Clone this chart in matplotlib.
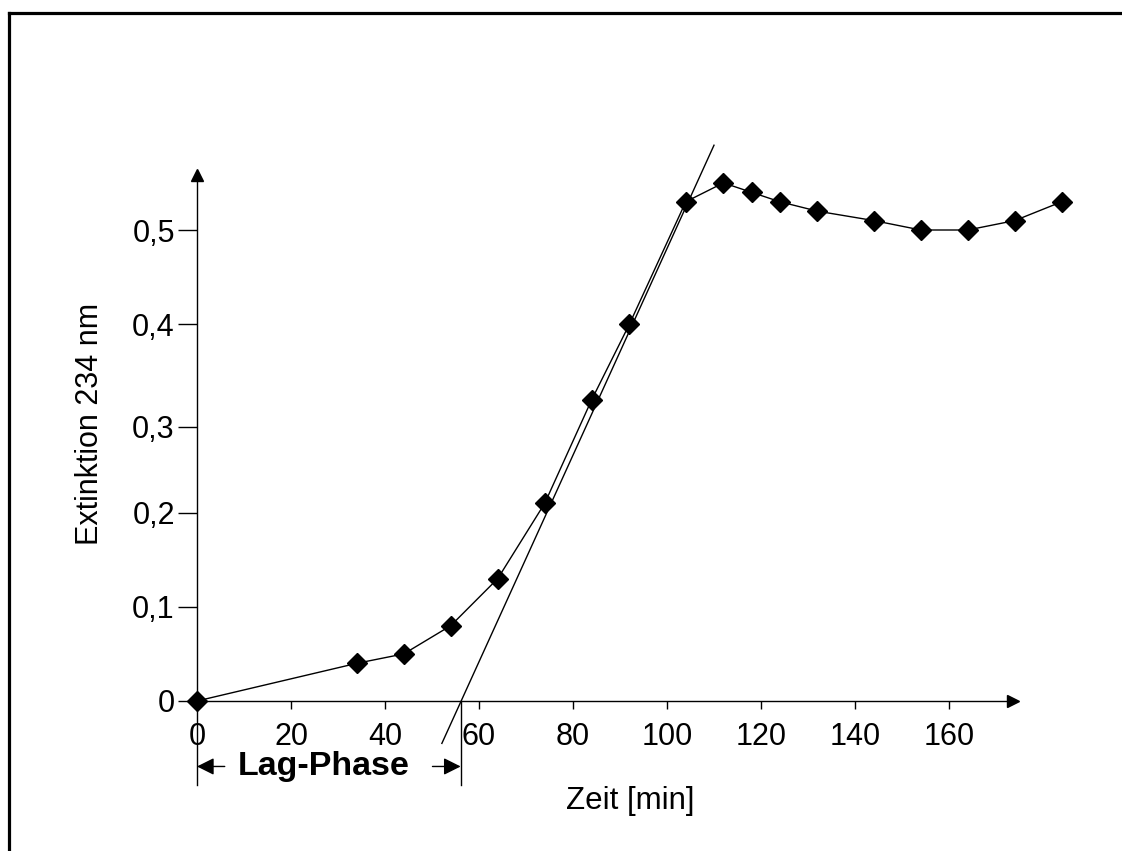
import matplotlib
matplotlib.use("Agg")
import matplotlib.pyplot as plt
from matplotlib.lines import Line2D

plt.rcParams['font.family'] = ['Liberation Sans', 'DejaVu Sans']

# --- data ---
zeit = [0, 34, 44, 54, 64, 74, 84, 92, 104, 112, 118, 124, 132, 144, 154, 164, 174, 184]
extinktion = [0, 0.04, 0.05, 0.08, 0.13, 0.21, 0.32, 0.40, 0.53, 0.55, 0.54, 0.53,
              0.52, 0.51, 0.50, 0.50, 0.51, 0.53]
tangent_x = [52.1, 110.0]
tangent_y = [-0.045, 0.59]
lag_end = 56.1
xtick_vals = [0, 20, 40, 60, 80, 100, 120, 140, 160]
xtick_labels = ['0', '20', '40', '60', '80', '100', '120', '140', '160']
ytick_vals = [0, 0.1, 0.2, 0.291, 0.4, 0.5]
ytick_labels = ['0', '0,1', '0,2', '0,3', '0,4', '0,5']

W, H = 1122, 851
fig = plt.figure(figsize=(W / 100, H / 100), dpi=100)

# axes placement in pixels
x0_px, y0_px = 197, 701
xmax, ymax = 173.6, 0.558
px_per_x, px_per_y = 4.7, 942
ax_w = xmax * px_per_x
ax_h = ymax * px_per_y
ax = fig.add_axes([x0_px / W, (H - y0_px) / H, ax_w / W, ax_h / H])
ax.set_xlim(0, xmax)
ax.set_ylim(0, ymax)

for s in ['top', 'right']:
    ax.spines[s].set_visible(False)
for s in ['left', 'bottom']:
    ax.spines[s].set_linewidth(1.0)

# arrow heads on axes
ax.plot(1, 0, marker='>', color='black', markersize=9, transform=ax.transAxes, clip_on=False)
ax.plot(0, 1, marker='^', color='black', markersize=9, transform=ax.transAxes, clip_on=False)

ax.set_xticks(xtick_vals)
ax.set_xticklabels(xtick_labels)
ax.set_yticks(ytick_vals)
ax.set_yticklabels(ytick_labels)
ax.tick_params(axis='x', direction='out', length=6, width=1, labelsize=22, pad=9)
ax.tick_params(axis='y', direction='out', length=14, width=1, labelsize=22, pad=2)

# data line
ax.plot(zeit, extinktion, color='black', lw=1.0, marker='D', markersize=10,
        markerfacecolor='black', markeredgecolor='black', clip_on=False, zorder=5)

# tangent
ax.plot(tangent_x, tangent_y, color='black', lw=1.0, clip_on=False)

# lag-phase annotation
ax.plot([0, 0], [0, -0.089], color='black', lw=1.0, clip_on=False)
ax.plot([lag_end, lag_end], [0, -0.089], color='black', lw=1.0, clip_on=False)
ax.annotate('', xy=(0, -0.0695), xytext=(5.9, -0.0695),
            arrowprops=dict(arrowstyle='-|>', color='black', lw=1.0, mutation_scale=26,
                            shrinkA=0, shrinkB=0), annotation_clip=False)
ax.annotate('', xy=(lag_end, -0.0695), xytext=(50.1, -0.0695),
            arrowprops=dict(arrowstyle='-|>', color='black', lw=1.0, mutation_scale=26,
                            shrinkA=0, shrinkB=0), annotation_clip=False)
ax.text(27.0, -0.0695, 'Lag-Phase', fontsize=24.5, fontweight='bold',
        ha='center', va='center', clip_on=False)

# axis labels
fig.text(630 / W, 1 - 801 / H, 'Zeit [min]', fontsize=22.5, ha='center', va='center')
fig.text(90 / W, 1 - 424 / H, 'Extinktion 234 nm', fontsize=22, ha='center', va='center',
         rotation=90)

# partial frame (top and left edges)
fig.add_artist(Line2D([9 / W, 9 / W], [0, 1 - 12.5 / H], color='black', lw=2.3,
                      transform=fig.transFigure, solid_capstyle='projecting'))
fig.add_artist(Line2D([9 / W, 1], [1 - 12.5 / H, 1 - 12.5 / H], color='black', lw=2.3,
                      transform=fig.transFigure, solid_capstyle='projecting'))

fig.savefig('out.png', dpi=100)
